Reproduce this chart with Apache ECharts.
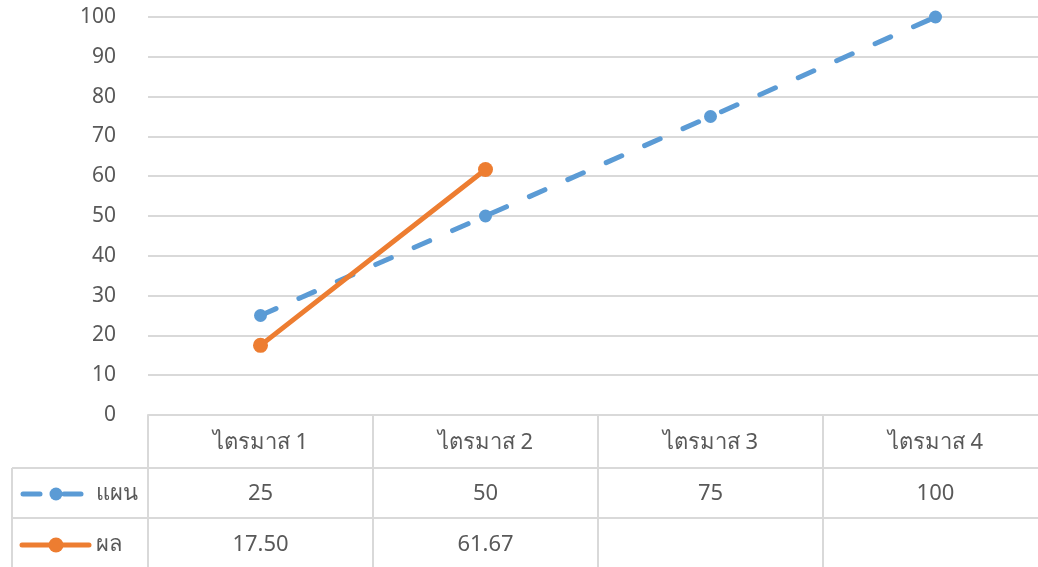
<!DOCTYPE html>
<html><head><meta charset="utf-8">
<script src="https://cdn.jsdelivr.net/npm/echarts@6/dist/echarts.min.js"></script>
<style>html,body{margin:0;padding:0;background:#fff}#c{width:1038px;height:567px}</style>
</head><body><div id="c"></div>
<script>
const categories = ['ไตรมาส 1', 'ไตรมาส 2', 'ไตรมาส 3', 'ไตรมาส 4'];
const planName = 'แผน';
const actualName = 'ผล';
const planValues = [25, 50, 75, 100];
const actualValues = [17.50, 61.67, null, null];
const yTicks = [0, 10, 20, 30, 40, 50, 60, 70, 80, 90, 100];

const FONT = "'Noto Sans', 'DejaVu Sans', sans-serif";
const TXT = '#595959', GRID = '#D9D9D9', BLUE = '#5B9BD5', ORANGE = '#ED7D31';
const chart = echarts.init(document.getElementById('c'));
chart.setOption({
  animation: false,
  grid: {left: 148, top: 17, right: -10, bottom: 152, outerBoundsMode: 'none', containLabel: false},
  xAxis: {type: 'category', data: categories, boundaryGap: true,
    axisLine: {show: true, lineStyle: {color: GRID, width: 2}},
    axisTick: {show: true, length: 152, lineStyle: {color: GRID, width: 2}},
    axisLabel: {show: false}},
  yAxis: {type: 'value', min: yTicks[0], max: yTicks[yTicks.length-1], interval: 10,
    axisLine: {show: false}, axisTick: {show: false},
    axisLabel: {color: TXT, fontSize: 21, fontFamily: FONT, margin: 32},
    splitLine: {lineStyle: {color: GRID, width: 2}}},
  series: [
    {name: planName, type: 'line', data: planValues, symbol: 'circle', symbolSize: 13,
     itemStyle: {color: BLUE}, lineStyle: {color: BLUE, width: 5, type: [17, 25], cap: 'round'}, z: 2},
    {name: actualName, type: 'line', data: actualValues, symbol: 'circle', symbolSize: 15,
     itemStyle: {color: ORANGE}, lineStyle: {color: ORANGE, width: 5, cap: 'round'}, z: 3}
  ]
});

function fmt2(v){ return v == null ? '' : v.toFixed(2); }
const row1 = 443, row2 = 494, row3 = 545;
const els = [];
const lineStyle = {stroke: GRID, lineWidth: 2};
els.push({type: 'line', shape: {x1: 12, y1: 468, x2: 1048, y2: 468}, style: lineStyle});
els.push({type: 'line', shape: {x1: 12, y1: 518, x2: 1048, y2: 518}, style: lineStyle});
els.push({type: 'line', shape: {x1: 12, y1: 468, x2: 12, y2: 567}, style: lineStyle});
const ts = {fill: TXT, fontSize: 22, fontFamily: FONT, align: 'center', verticalAlign: 'middle'};
categories.forEach((c, i) => {
  const x = chart.convertToPixel({xAxisIndex: 0}, i);
  els.push({type: 'text', x: x, y: row1, style: Object.assign({text: c}, ts)});
  els.push({type: 'text', x: x, y: row2, style: Object.assign({text: String(planValues[i])}, ts)});
  els.push({type: 'text', x: x, y: row3, style: Object.assign({text: fmt2(actualValues[i])}, ts)});
});
// legend keys
const blueKey = {stroke: BLUE, lineWidth: 5, lineCap: 'round'};
els.push({type: 'line', shape: {x1: 23, y1: row2, x2: 40, y2: row2}, style: blueKey});
els.push({type: 'line', shape: {x1: 64, y1: row2, x2: 81, y2: row2}, style: blueKey});
els.push({type: 'circle', shape: {cx: 56, cy: row2, r: 6.5}, style: {fill: BLUE}});
els.push({type: 'text', x: 96, y: row2, style: Object.assign({}, ts, {text: planName, align: 'left'})});
els.push({type: 'line', shape: {x1: 22, y1: row3, x2: 89, y2: row3}, style: {stroke: ORANGE, lineWidth: 5, lineCap: 'round'}});
els.push({type: 'circle', shape: {cx: 56, cy: row3, r: 7.5}, style: {fill: ORANGE}});
els.push({type: 'text', x: 96, y: row3, style: Object.assign({}, ts, {text: actualName, align: 'left'})});
chart.setOption({graphic: els});
</script></body></html>
